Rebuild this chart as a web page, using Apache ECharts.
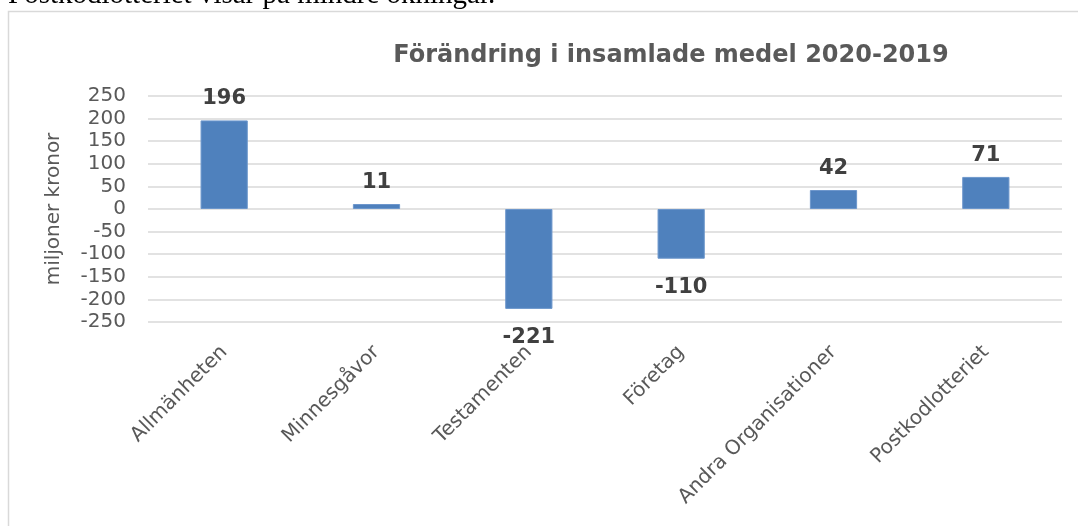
<!DOCTYPE html>
<html>
<head>
<meta charset="utf-8">
<script src="https://cdn.jsdelivr.net/npm/echarts@6/dist/echarts.min.js"></script>
<style>
html,body{margin:0;padding:0;background:#fff;}
#chart{width:1078px;height:526px;}
</style>
</head>
<body>
<div id="chart"></div>
<script>
const categories = ['Allmänheten','Minnesgåvor','Testamenten','Företag','Andra Organisationer','Postkodlotteriet'];
const values = [196, 11, -221, -110, 42, 71];
const yTicks = { min: -250, max: 250, interval: 50 };
const titleText = 'Förändring i insamlade medel 2020-2019';
const yAxisName = 'miljoner kronor';
const aboveText = 'Postkodlotteriet visar på mindre ökningar.';

const chart = echarts.init(document.getElementById('chart'), null, {renderer:'canvas'});
const font = 'DejaVu Sans';
chart.setOption({
  animation: false,
  backgroundColor: '#fff',
  graphic: [
    { type:'rect', shape:{x:8.5,y:11.5,width:1200,height:700}, style:{fill:'none',stroke:'#d9d9d9',lineWidth:1.5}, silent:true, z:-1 },
    { type:'text', x:8, y:-5, style:{text:aboveText, font:'29px "Liberation Serif"', fill:'#000', verticalAlign:'middle', align:'left'} }
  ],
  title: {
    text: titleText,
    left: 666, top: 39, textAlign: 'center',
    textStyle: { fontFamily: font, fontWeight: 'bold', fontSize: 24, color: '#595959' }
  },
  grid: { left: 148, right: 16, top: 96, bottom: 204, containLabel: false },
  xAxis: {
    type: 'category',
    data: categories,
    axisLine: { show: false },
    axisTick: { show: false },
    axisLabel: { rotate: 45, margin: 27, interval: 0, fontFamily: font, fontSize: 20, color: '#595959' },
    splitLine: { show: false }
  },
  yAxis: {
    type: 'value',
    min: yTicks.min, max: yTicks.max, interval: yTicks.interval,
    name: yAxisName, nameLocation: 'middle', nameRotate: 90, nameGap: 84,
    nameTextStyle: { fontFamily: font, fontSize: 20, color: '#595959' },
    axisLine: { show: false },
    axisTick: { show: false },
    axisLabel: { margin: 22, fontFamily: font, fontSize: 20, color: '#595959' },
    splitLine: { lineStyle: { color: '#d9d9d9', width: 1.5 } }
  },
  series: [{
    type: 'bar',
    barWidth: '31%',
    itemStyle: { color: '#4f81bd', borderColor: '#6d97cc', borderWidth: 1 },
    data: values.map(v => ({
      value: v,
      label: {
        show: true,
        position: v >= 0 ? 'top' : 'bottom',
        distance: v >= 0 ? 11 : 18,
        fontFamily: font, fontWeight: 'bold', fontSize: 21, color: '#404040'
      }
    }))
  }]
});
</script>
</body>
</html>
